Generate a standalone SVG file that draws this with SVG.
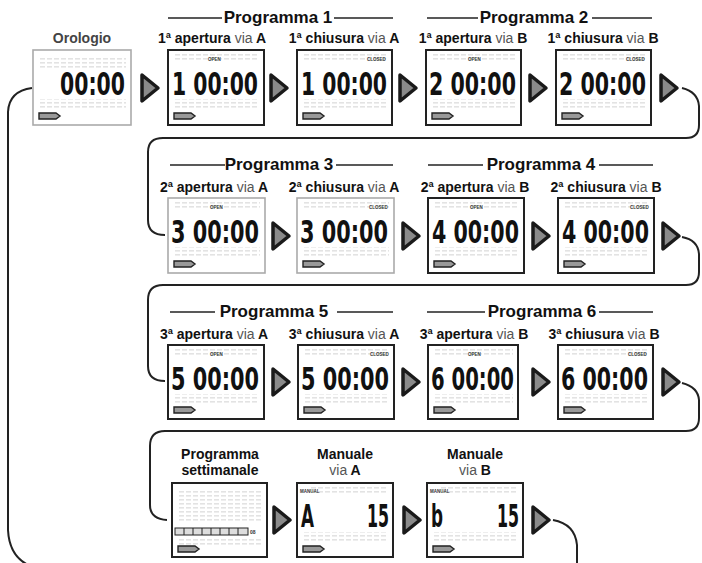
<svg xmlns="http://www.w3.org/2000/svg" xmlns:xlink="http://www.w3.org/1999/xlink" width="702" height="563" viewBox="0 0 702 563">
<style>
.lcd{fill:#fff;stroke:#222;stroke-width:2}
.lcdl{fill:#fff;stroke:#aaa;stroke-width:1.6}
.dig{font-family:"DejaVu Sans Condensed","DejaVu Sans",sans-serif;font-size:32px;font-weight:bold;fill:#111}
.tiny{font-family:"Liberation Sans",Arial,sans-serif;font-size:4.5px;font-weight:bold;fill:#333}
.ttl{font-family:"Liberation Sans",Arial,sans-serif;font-size:17px;font-weight:bold;fill:#111;text-anchor:middle}
.lbl{font-family:"Liberation Sans",Arial,sans-serif;font-size:14px;font-weight:bold;fill:#111;text-anchor:middle}
.via{font-weight:normal;fill:#555}
.rule{stroke:#222;stroke-width:1.6}
.con{fill:none;stroke:#222;stroke-width:2}
</style>
<defs>
<pattern id="ghost" width="7" height="4" patternUnits="userSpaceOnUse"><rect width="5" height="1.6" fill="#e3e3e3"/></pattern>
<g id="ico"><path d="M0 0H17L21 3L17 6H0Z" fill="#999" stroke="#222" stroke-width="1.4"/></g>
<path id="arr" d="M-7-13L9 0L-7 13Z" fill="#8a8a8a" stroke="#1a1a1a" stroke-width="3.5" stroke-linejoin="round"/>
</defs>

<!-- Titles -->
<g id="titles">
<line class="rule" x1="168" y1="18" x2="222" y2="18"/><text class="ttl" x="278" y="23">Programma 1</text><line class="rule" x1="334" y1="18" x2="393" y2="18"/>
<line class="rule" x1="427" y1="18" x2="478" y2="18"/><text class="ttl" x="534" y="23">Programma 2</text><line class="rule" x1="592" y1="18" x2="652" y2="18"/>
<line class="rule" x1="170" y1="165" x2="225" y2="165"/><text class="ttl" x="279" y="170">Programma 3</text><line class="rule" x1="336" y1="165" x2="393" y2="165"/>
<line class="rule" x1="428" y1="165" x2="483" y2="165"/><text class="ttl" x="541" y="170">Programma 4</text><line class="rule" x1="599" y1="165" x2="653" y2="165"/>
<line class="rule" x1="170" y1="312" x2="215" y2="312"/><text class="ttl" x="274" y="317">Programma 5</text><line class="rule" x1="337" y1="312" x2="393" y2="312"/>
<line class="rule" x1="427" y1="312" x2="485" y2="312"/><text class="ttl" x="542" y="317">Programma 6</text><line class="rule" x1="599" y1="312" x2="653" y2="312"/>
</g>

<!-- Row 1 -->
<g id="n-orologio">
<text class="lbl" x="82" y="43" style="fill:#444">Orologio</text>
<g transform="translate(33,50)">
<rect class="lcdl" width="98" height="75"/>
<rect x="5" y="6" width="88" height="12" fill="url(#ghost)"/><rect x="5" y="49" width="88" height="10" fill="url(#ghost)"/>
<text class="dig" x="27" y="45" textLength="65" lengthAdjust="spacingAndGlyphs">00:00</text>
<use xlink:href="#ico" x="6" y="63"/>
</g></g>

<g id="n-1-apertura-a">
<text class="lbl" x="212" y="43">1ª apertura <tspan class="via">via</tspan> A</text>
<g transform="translate(168,50)">
<rect class="lcd" width="96" height="75"/>
<rect x="5" y="4" width="86" height="8" fill="url(#ghost)"/><rect x="5" y="49" width="86" height="10" fill="url(#ghost)"/>
<text class="tiny" x="40" y="11">OPEN</text>
<text class="dig" x="4" y="45" textLength="86" lengthAdjust="spacingAndGlyphs">1 00:00</text>
<use xlink:href="#ico" x="6" y="63"/>
</g></g>

<g id="n-1-chiusura-a">
<text class="lbl" x="344" y="43">1ª chiusura <tspan class="via">via</tspan> A</text>
<g transform="translate(297,50)">
<rect class="lcd" width="95" height="75"/>
<rect x="5" y="4" width="85" height="8" fill="url(#ghost)"/><rect x="5" y="49" width="85" height="10" fill="url(#ghost)"/>
<text class="tiny" x="70" y="11">CLOSED</text>
<text class="dig" x="4" y="45" textLength="86" lengthAdjust="spacingAndGlyphs">1 00:00</text>
<use xlink:href="#ico" x="6" y="63"/>
</g></g>

<g id="n-1-apertura-b">
<text class="lbl" x="473" y="43">1ª apertura <tspan class="via">via</tspan> B</text>
<g transform="translate(426,50)">
<rect class="lcd" width="95" height="75"/>
<rect x="5" y="4" width="85" height="8" fill="url(#ghost)"/><rect x="5" y="49" width="85" height="10" fill="url(#ghost)"/>
<text class="tiny" x="42" y="11">OPEN</text>
<text class="dig" x="3" y="45" textLength="87" lengthAdjust="spacingAndGlyphs">2 00:00</text>
<use xlink:href="#ico" x="6" y="63"/>
</g></g>

<g id="n-1-chiusura-b">
<text class="lbl" x="603" y="43">1ª chiusura <tspan class="via">via</tspan> B</text>
<g transform="translate(556,50)">
<rect class="lcd" width="95" height="75"/>
<rect x="5" y="4" width="85" height="8" fill="url(#ghost)"/><rect x="5" y="49" width="85" height="10" fill="url(#ghost)"/>
<text class="tiny" x="70" y="11">CLOSED</text>
<text class="dig" x="3" y="45" textLength="87" lengthAdjust="spacingAndGlyphs">2 00:00</text>
<use xlink:href="#ico" x="6" y="63"/>
</g></g>

<!-- Row 2 -->
<g id="n-2-apertura-a">
<text class="lbl" x="214" y="192">2ª apertura <tspan class="via">via</tspan> A</text>
<g transform="translate(168,198)">
<rect class="lcdl" width="97" height="75"/>
<rect x="5" y="4" width="87" height="8" fill="url(#ghost)"/><rect x="5" y="49" width="87" height="10" fill="url(#ghost)"/>
<text class="tiny" x="42" y="11">OPEN</text>
<text class="dig" x="3" y="45" textLength="88" lengthAdjust="spacingAndGlyphs">3 00:00</text>
<use xlink:href="#ico" x="6" y="63"/>
</g></g>

<g id="n-2-chiusura-a">
<text class="lbl" x="344" y="192">2ª chiusura <tspan class="via">via</tspan> A</text>
<g transform="translate(297,198)">
<rect class="lcdl" width="97" height="75"/>
<rect x="5" y="4" width="87" height="8" fill="url(#ghost)"/><rect x="5" y="49" width="87" height="10" fill="url(#ghost)"/>
<text class="tiny" x="72" y="11">CLOSED</text>
<text class="dig" x="3" y="45" textLength="88" lengthAdjust="spacingAndGlyphs">3 00:00</text>
<use xlink:href="#ico" x="6" y="63"/>
</g></g>

<g id="n-2-apertura-b">
<text class="lbl" x="475" y="192">2ª apertura <tspan class="via">via</tspan> B</text>
<g transform="translate(428,198)">
<rect class="lcd" width="96" height="75"/>
<rect x="5" y="4" width="86" height="8" fill="url(#ghost)"/><rect x="5" y="49" width="86" height="10" fill="url(#ghost)"/>
<text class="tiny" x="42" y="11">OPEN</text>
<text class="dig" x="4" y="45" textLength="87" lengthAdjust="spacingAndGlyphs">4 00:00</text>
<use xlink:href="#ico" x="6" y="63"/>
</g></g>

<g id="n-2-chiusura-b">
<text class="lbl" x="606" y="192">2ª chiusura <tspan class="via">via</tspan> B</text>
<g transform="translate(558,198)">
<rect class="lcd" width="96" height="75"/>
<rect x="5" y="4" width="86" height="8" fill="url(#ghost)"/><rect x="5" y="49" width="86" height="10" fill="url(#ghost)"/>
<text class="tiny" x="72" y="11">CLOSED</text>
<text class="dig" x="4" y="45" textLength="87" lengthAdjust="spacingAndGlyphs">4 00:00</text>
<use xlink:href="#ico" x="6" y="63"/>
</g></g>

<!-- Row 3 -->
<g id="n-3-apertura-a">
<text class="lbl" x="214" y="339">3ª apertura <tspan class="via">via</tspan> A</text>
<g transform="translate(168,345)">
<rect class="lcd" width="96" height="74"/>
<rect x="5" y="4" width="86" height="8" fill="url(#ghost)"/><rect x="5" y="49" width="86" height="10" fill="url(#ghost)"/>
<text class="tiny" x="42" y="11">OPEN</text>
<text class="dig" x="3" y="45" textLength="88" lengthAdjust="spacingAndGlyphs">5 00:00</text>
<use xlink:href="#ico" x="6" y="62"/>
</g></g>

<g id="n-3-chiusura-a">
<text class="lbl" x="344" y="339">3ª chiusura <tspan class="via">via</tspan> A</text>
<g transform="translate(298,345)">
<rect class="lcd" width="96" height="74"/>
<rect x="5" y="4" width="86" height="8" fill="url(#ghost)"/><rect x="5" y="49" width="86" height="10" fill="url(#ghost)"/>
<text class="tiny" x="72" y="11">CLOSED</text>
<text class="dig" x="3" y="45" textLength="88" lengthAdjust="spacingAndGlyphs">5 00:00</text>
<use xlink:href="#ico" x="6" y="62"/>
</g></g>

<g id="n-3-apertura-b">
<text class="lbl" x="474" y="339">3ª apertura <tspan class="via">via</tspan> B</text>
<g transform="translate(428,345)">
<rect class="lcd" width="90" height="74"/>
<rect x="5" y="4" width="80" height="8" fill="url(#ghost)"/><rect x="5" y="49" width="80" height="10" fill="url(#ghost)"/>
<text class="tiny" x="40" y="11">OPEN</text>
<text class="dig" x="3" y="45" textLength="83" lengthAdjust="spacingAndGlyphs">6 00:00</text>
<use xlink:href="#ico" x="6" y="62"/>
</g></g>

<g id="n-3-chiusura-b">
<text class="lbl" x="604" y="339">3ª chiusura <tspan class="via">via</tspan> B</text>
<g transform="translate(558,345)">
<rect class="lcd" width="95" height="74"/>
<rect x="5" y="4" width="85" height="8" fill="url(#ghost)"/><rect x="5" y="49" width="85" height="10" fill="url(#ghost)"/>
<text class="tiny" x="70" y="11">CLOSED</text>
<text class="dig" x="3" y="45" textLength="87" lengthAdjust="spacingAndGlyphs">6 00:00</text>
<use xlink:href="#ico" x="6" y="62"/>
</g></g>

<!-- Row 4 -->
<g id="n-settimanale">
<text class="lbl" x="220" y="459">Programma</text>
<text class="lbl" x="220" y="475">settimanale</text>
<g transform="translate(172,483)">
<rect class="lcd" width="95" height="74"/>
<rect x="5" y="6" width="85" height="34" fill="url(#ghost)"/><rect x="5" y="55" width="85" height="8" fill="url(#ghost)"/>
<rect x="3" y="45" width="73" height="7" fill="#ddd" stroke="#222" stroke-width="1"/>
<path d="M12 45V52M21 45V52M30 45V52M39 45V52M48 45V52M57 45V52M66 45V52" stroke="#222" stroke-width="1"/>
<text class="tiny" x="78" y="51" style="font-size:5px">08</text>
<use xlink:href="#ico" x="6" y="63"/>
</g></g>

<g id="n-manuale-a">
<text class="lbl" x="345" y="459">Manuale</text>
<text class="lbl" x="345" y="475"><tspan class="via">via</tspan> A</text>
<g transform="translate(297,483)">
<rect class="lcd" width="96" height="74"/>
<rect x="12" y="4" width="79" height="8" fill="url(#ghost)"/><rect x="5" y="49" width="86" height="10" fill="url(#ghost)"/>
<text class="tiny" x="3" y="10">MANUAL</text>
<text class="dig" x="4" y="44" textLength="13" lengthAdjust="spacingAndGlyphs">A</text>
<text class="dig" x="70" y="44" textLength="22" lengthAdjust="spacingAndGlyphs">15</text>
<use xlink:href="#ico" x="6" y="63"/>
</g></g>

<g id="n-manuale-b">
<text class="lbl" x="475" y="459">Manuale</text>
<text class="lbl" x="475" y="475"><tspan class="via">via</tspan> B</text>
<g transform="translate(427,483)">
<rect class="lcd" width="96" height="74"/>
<rect x="12" y="4" width="79" height="8" fill="url(#ghost)"/><rect x="5" y="49" width="86" height="10" fill="url(#ghost)"/>
<text class="tiny" x="3" y="10">MANUAL</text>
<text class="dig" x="4" y="44" textLength="12" lengthAdjust="spacingAndGlyphs">b</text>
<text class="dig" x="70" y="44" textLength="22" lengthAdjust="spacingAndGlyphs">15</text>
<use xlink:href="#ico" x="6" y="63"/>
</g></g>

<!-- Connectors -->
<g id="connectors">
<path class="con" d="M682 88 Q698 92 699 106 L699 125 Q699 138 686 138 L163 138 Q148 138 148 152 L148 220 Q148 235 165 235"/>
<path class="con" d="M682 237 Q698 240 699 254 L699 272 Q699 285 686 285 L163 285 Q148 285 148 300 L148 366 Q148 381 165 381"/>
<path class="con" d="M682 383 Q698 387 699 400 L699 418 Q699 431 686 431 L165 431 Q150 431 150 446 L150 505 Q150 519 167 520"/>
<path class="con" d="M553 520 Q575 524 577 545 L577 563 Q577 570 560 570 L50 570 Q10 568 8 530 L8 112 Q9 91 32 88"/>
<use xlink:href="#arr" x="149" y="88"/>
<use xlink:href="#arr" x="278" y="88"/>
<use xlink:href="#arr" x="407" y="88"/>
<use xlink:href="#arr" x="537" y="88"/>
<use xlink:href="#arr" x="668" y="88"/>
<use xlink:href="#arr" x="280" y="236"/>
<use xlink:href="#arr" x="410" y="236"/>
<use xlink:href="#arr" x="540" y="236"/>
<use xlink:href="#arr" x="670" y="236"/>
<use xlink:href="#arr" x="280" y="382"/>
<use xlink:href="#arr" x="410" y="382"/>
<use xlink:href="#arr" x="540" y="382"/>
<use xlink:href="#arr" x="670" y="382"/>
<use xlink:href="#arr" x="281" y="520"/>
<use xlink:href="#arr" x="411" y="520"/>
<use xlink:href="#arr" x="540" y="520"/>
</g>
</svg>
